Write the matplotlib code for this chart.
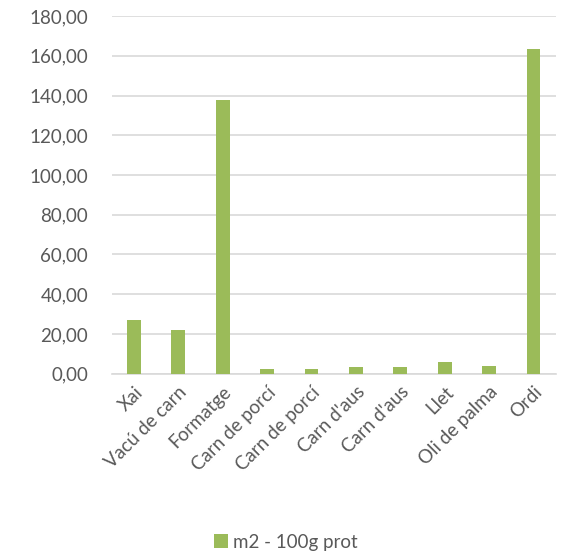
import matplotlib.pyplot as plt
from matplotlib.ticker import FuncFormatter

categories = ["Xai", "Vacú de carn", "Formatge", "Carn de porcí", "Carn de porcí",
              "Carn d'aus", "Carn d'aus", "Llet", "Oli de palma", "Ordi"]
values = [27.0, 22.0, 137.6, 2.3, 2.3, 3.3, 3.3, 5.9, 3.9, 163.3]
series_name = "m2 - 100g prot"

plt.rcParams["font.family"] = ["Lato", "DejaVu Sans"]
text_color = "#595959"
bar_color = "#9BBB59"

fig = plt.figure(figsize=(5.61, 5.56), dpi=100)
ax = fig.add_axes([0.199, 0.328, 0.7915, 0.643])

x = range(len(categories))
ax.bar(x, values, width=0.31, color=bar_color, label=series_name, zorder=3)

ax.set_xlim(-0.5, len(categories) - 0.5)
ax.set_ylim(0, 180)
ax.set_yticks(range(0, 181, 20))
ax.yaxis.set_major_formatter(FuncFormatter(lambda v, p: f"{v:.2f}".replace(".", ",")))
ax.grid(axis="y", color="#D9D9D9", linewidth=1.2, zorder=0)

ax.set_xticks(list(x))
ax.set_xticklabels(categories, rotation=45, ha="right", rotation_mode="anchor")

for s in ["top", "right", "left"]:
    ax.spines[s].set_visible(False)
ax.spines["bottom"].set_color("#D9D9D9")
ax.spines["bottom"].set_linewidth(1.2)
ax.tick_params(axis="both", length=0, labelsize=13.5, colors=text_color)
ax.tick_params(axis="x", pad=7)
ax.tick_params(axis="y", pad=17)

fig.legend(loc="center", bbox_to_anchor=(0.51, 0.025), frameon=False,
           fontsize=13.5, labelcolor=text_color, handlelength=0.7,
           handleheight=0.7, handletextpad=0.3)

fig.savefig("out.png", dpi=100)
